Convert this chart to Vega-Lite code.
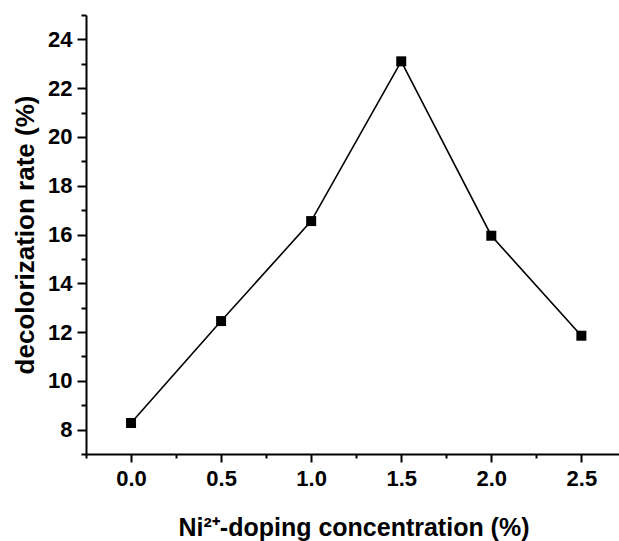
{
  "$schema": "https://vega.github.io/schema/vega-lite/v6.json",
  "width": 535,
  "height": 439,
  "autosize": {"type": "none"},
  "padding": {"left": 86, "top": 15, "right": 0, "bottom": 87},
  "background": "white",
  "config": {
    "view": {"stroke": null},
    "axis": {
      "domainColor": "black",
      "domainWidth": 2,
      "tickColor": "black",
      "tickWidth": 2,
      "grid": false,
      "labelFont": "Liberation Sans",
      "labelFontWeight": "bold",
      "labelFontSize": 22,
      "labelColor": "black",
      "titleFont": "Liberation Sans",
      "titleFontWeight": "bold",
      "titleFontSize": 25,
      "titleColor": "black",
      "labelOverlap": false,
      "labelFlush": false
    }
  },
  "data": {
    "values": [
      {"conc": 0.0, "rate": 8.27},
      {"conc": 0.5, "rate": 12.45},
      {"conc": 1.0, "rate": 16.55},
      {"conc": 1.5, "rate": 23.1},
      {"conc": 2.0, "rate": 15.95},
      {"conc": 2.5, "rate": 11.85}
    ]
  },
  "encoding": {
    "x": {
      "field": "conc",
      "type": "quantitative",
      "scale": {"domain": [-0.25, 2.72], "nice": false, "zero": false},
      "axis": {
        "title": "Ni²⁺-doping concentration (%)",
        "values": [-0.25, 0, 0.25, 0.5, 0.75, 1, 1.25, 1.5, 1.75, 2, 2.25, 2.5],
        "labelExpr": "datum.value % 0.5 === 0 ? format(datum.value, '.1f') : ''",
        "tickSize": {"condition": {"test": "datum.value % 0.5 === 0", "value": 8}, "value": 4},
        "labelPadding": 6,
        "titlePadding": 26
      }
    },
    "y": {
      "field": "rate",
      "type": "quantitative",
      "scale": {"domain": [7, 25], "nice": false, "zero": false},
      "axis": {
        "title": "decolorization rate (%)",
        "titleFontSize": 26,
        "values": [7, 8, 9, 10, 11, 12, 13, 14, 15, 16, 17, 18, 19, 20, 21, 22, 23, 24, 25],
        "labelExpr": "datum.value % 2 === 0 ? datum.label : ''",
        "tickSize": {"condition": {"test": "datum.value % 2 === 0", "value": 9}, "value": 5},
        "labelPadding": 5,
        "titlePadding": 9
      }
    }
  },
  "layer": [
    {"mark": {"type": "line", "color": "black", "strokeWidth": 1.6}},
    {"mark": {"type": "point", "shape": "square", "filled": true, "color": "black", "size": 100, "opacity": 1}}
  ]
}
